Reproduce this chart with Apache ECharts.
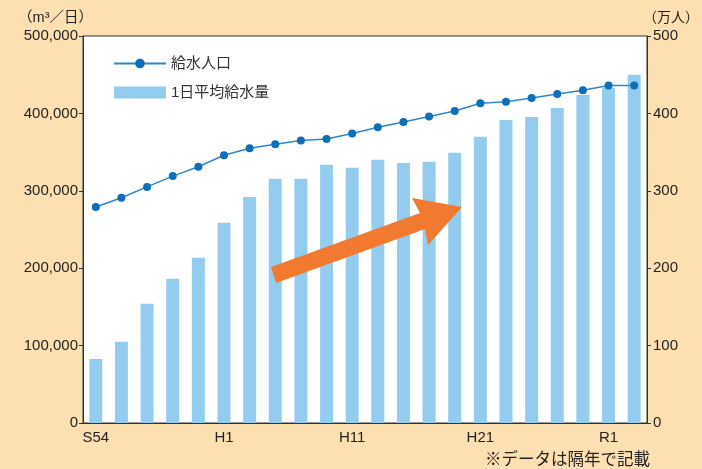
<!DOCTYPE html>
<html><head><meta charset="utf-8">
<script src="https://cdn.jsdelivr.net/npm/echarts@6/dist/echarts.min.js"></script>
<style>html,body{margin:0;padding:0;background:#fde0b2;}#c{width:702px;height:469px;}</style>
</head><body><div id="c"></div>
<script>
const categories = ['S54','S56','S58','S60','S62','H1','H3','H5','H7','H9','H11','H13','H15','H17','H19','H21','H23','H25','H27','H29','R1','R3'];
const supplyVolume = [82800,105000,154000,186500,213500,258700,292000,315500,315500,333500,329700,340000,336000,337400,349000,369700,391600,395500,407000,423900,433000,450000];
const population = [279,291,305,319,331,346,355,360,365,367,374,382,389,396,403,413,415,420,425,430,436,436];
const leftTicks = [0,100000,200000,300000,400000,500000];
const rightTicks = [0,100,200,300,400,500];

const font = '"Liberation Sans", Arial, "Noto Sans CJK JP", sans-serif';
const chart = echarts.init(document.getElementById('c'));
chart.setOption({
  backgroundColor: '#fde0b2',
  animation: false,
  textStyle: {fontFamily: font},
  grid: {left: 83, right: 53, top: 36, bottom: 46, show: true, backgroundColor: '#ffffff', borderColor: '#333', borderWidth: 1},
  legend: {
    left: 108, top: 51, orient: 'vertical', itemWidth: 52, itemHeight: 12, itemGap: 14,
    textStyle: {fontSize: 15, color: '#333', fontFamily: font},
    data: [
      {name: '給水人口'},
      {name: '1日平均給水量', icon: 'rect'}
    ]
  },
  xAxis: {
    type: 'category', data: categories,
    axisLine: {lineStyle: {color: '#333'}},
    axisTick: {show: false},
    axisLabel: {interval: 4, color: '#222', fontSize: 15, margin: 7}
  },
  yAxis: [
    {type: 'value', min: 0, max: 500000, interval: 100000, name: '（m³／日）', nameLocation: 'end', nameGap: 11,
     nameTextStyle: {align: 'right', padding: [0, -10, 0, 0], fontSize: 14.5, color: '#222'},
     axisLine: {show: true, lineStyle: {color: '#333'}}, axisTick: {show: true, length: 4, lineStyle: {color: '#333'}},
     splitLine: {show: false},
     axisLabel: {color: '#222', fontSize: 15, margin: 5, formatter: v => leftTicks.includes(v) ? v.toLocaleString('en-US') : ''}},
    {type: 'value', min: 0, max: 500, interval: 100, name: '（万人）', nameLocation: 'end', nameGap: 11,
     nameTextStyle: {align: 'left', padding: [0, 0, 0, -4], fontSize: 14, color: '#222'},
     axisLine: {show: true, lineStyle: {color: '#333'}}, axisTick: {show: true, length: 4, lineStyle: {color: '#333'}},
     splitLine: {show: false},
     axisLabel: {color: '#222', fontSize: 15, margin: 6, formatter: v => rightTicks.includes(v) ? String(v) : ''}}
  ],
  series: [
    {name: '1日平均給水量', type: 'bar', data: supplyVolume, yAxisIndex: 0, barWidth: 13,
     itemStyle: {color: '#92cdf0'}},
    {name: '給水人口', type: 'line', data: population, yAxisIndex: 1, symbol: 'circle', symbolSize: 8,
     lineStyle: {color: '#2f86c9', width: 1.5}, itemStyle: {color: '#0e6eb8'}, z: 5}
  ],
  graphic: [
    {type: 'polygon', z: 10, shape: {points: [[271,267],[420,213],[412,198],[462,207],[428,245],[425,229],[276,283]]},
     style: {fill: '#f27a30'}},
    {type: 'text', right: 52, bottom: 0, style: {text: '※データは隔年で記載', fontSize: 16.5, fill: '#222', fontFamily: font}}
  ]
});
</script></body></html>
